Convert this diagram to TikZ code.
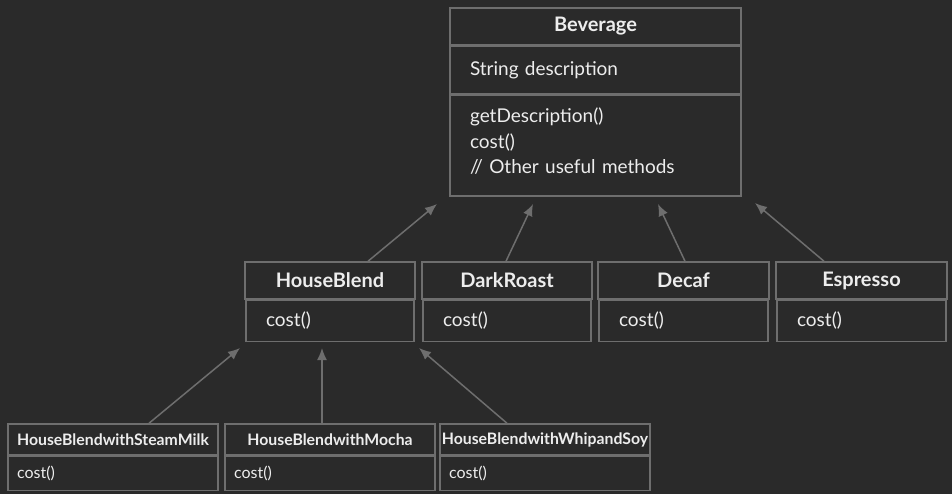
\documentclass[tikz,border=0pt]{standalone}
\usepackage{fontspec}
\setmainfont{Lato}
\usetikzlibrary{positioning, arrows.meta}

\definecolor{bgdark}{HTML}{2A2A2A}
\definecolor{linegray}{HTML}{6E6E6E}
\definecolor{fgwhite}{HTML}{EDEDED}

\tikzset{
  box/.style={draw=linegray, line width=1.5pt, text=fgwhite, inner sep=0pt},
  head/.style={box, font=\bfseries\fontsize{20}{22}\selectfont, minimum height=37pt},
  body/.style={box, font=\fontsize{19}{25.5}\selectfont, align=left, inner xsep=20pt},
  smallhead/.style={box, font=\bfseries\fontsize{15.8}{18}\selectfont, minimum width=210pt, minimum height=31pt},
  smallbody/.style={box, font=\fontsize{16}{18}\selectfont, align=left, inner xsep=9pt, text width=192pt, minimum height=34pt},
  inherit/.style={draw=linegray, line width=1.5pt, -{Latex[length=12pt,width=10pt]}}
}

\begin{document}
\begin{tikzpicture}[x=1pt, y=-1pt]
	\fill[bgdark] (0,0) rectangle (952,494);
	\useasboundingbox (0,0) rectangle (952,494);

	% base class
	\node[head, minimum width=291pt] (bev) at (595.5,26.5) {Beverage};
	\node[body, text width=251pt, minimum height=47pt, below=0pt of bev] (bevattr) {String description};
	\node[body, text width=251pt, minimum height=101pt, below=0pt of bevattr] (bevmeth) {getDescription()\\cost()\\// Other useful methods\vspace{8pt}};

	% concrete beverages
	\node[head, minimum width=170pt] (hb) at (330,280.5) {HouseBlend};
	\node[body, text width=128pt, minimum height=41pt, below=0pt of hb] (hbm) {cost()};
	\node[head, minimum width=170pt] (dr) at (507,280.5) {DarkRoast};
	\node[body, text width=128pt, minimum height=41pt, below=0pt of dr] (drm) {cost()};
	\node[head, minimum width=171pt] (dc) at (683.5,280.5) {Decaf};
	\node[body, text width=129pt, minimum height=41pt, below=0pt of dc] (dcm) {cost()};
	\node[head, minimum width=171pt] (es) at (861.5,280.5) {Espresso};
	\node[body, text width=129pt, minimum height=41pt, below=0pt of es] (esm) {cost()};

	% house blend variants
	\node[smallhead] (hbsm) at (113,439.5) {HouseBlendwithSteamMilk};
	\node[smallbody, below=0pt of hbsm] (hbsmm) {cost()};
	\node[smallhead] (hbmo) at (330,439.5) {HouseBlendwithMocha};
	\node[smallbody, below=0pt of hbmo] (hbmom) {cost()};
	\node[smallhead] (hbws) at (545,439.5) {HouseBlendwithWhipandSoy};
	\node[smallbody, below=0pt of hbws] (hbwsm) {cost()};

	% arrow tips
	\coordinate (tiphb) at (437,204);
	\coordinate (tipdr) at (533,204);
	\coordinate (tipdc) at (658,204);
	\coordinate (tipes) at (755,203);
	\coordinate (tipsm) at (240,348);
	\coordinate (tipmo) at (322,348);
	\coordinate (tipws) at (419,348);

	\draw[inherit] ([xshift=38pt]hb.north) -- (tiphb);
	\draw[inherit] ([xshift=-1pt]dr.north) -- (tipdr);
	\draw[inherit] ([xshift=1.5pt]dc.north) -- (tipdc);
	\draw[inherit] ([xshift=-37.5pt]es.north) -- (tipes);
	\draw[inherit] ([xshift=36pt]hbsm.north) -- (tipsm);
	\draw[inherit] ([xshift=-8pt]hbmo.north) -- (tipmo);
	\draw[inherit] ([xshift=-38pt]hbws.north) -- (tipws);
\end{tikzpicture}
\end{document}
